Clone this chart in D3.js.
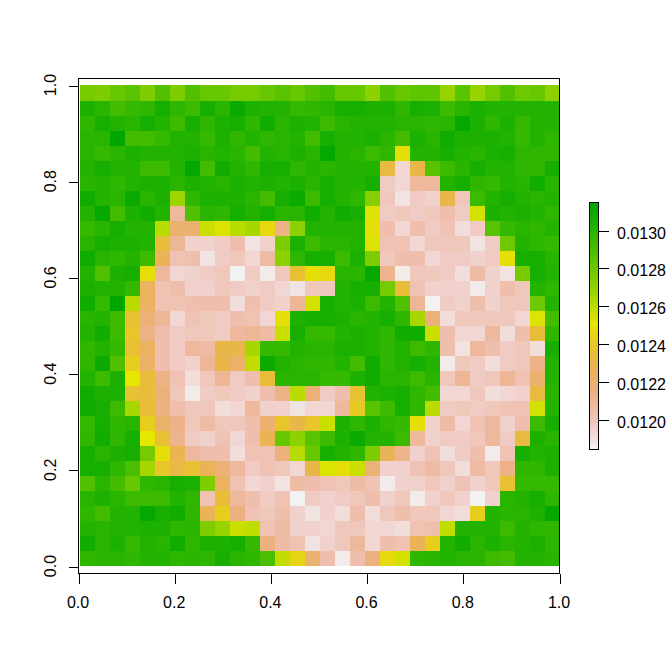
<!DOCTYPE html>
<html>
<head>
<meta charset="utf-8">
<script src="https://cdn.jsdelivr.net/npm/d3@7"></script>
<style>
html,body{margin:0;padding:0;background:#fff}
svg{display:block}
text{font-family:"Liberation Sans",Arial,sans-serif;font-size:16px;fill:#000}
</style>
</head>
<body>
<svg id="chart" width="672" height="671"></svg>
<script>
// cell values, in units of 1e-5, top row first
const row00=[1279,1276,1282,1286,1277,1289,1277,1288,1282,1283,1278,1278,1282,1286,1282,1288,1294,1282,1282,1273,1288,1283,1284,1284,1270,1287,1270,1278,1290,1281,1282,1272];
const row01=[1305,1302,1294,1298,1300,1308,1299,1296,1307,1302,1311,1305,1304,1304,1298,1300,1301,1307,1307,1306,1306,1300,1308,1306,1296,1301,1305,1304,1304,1304,1304,1304];
const row02=[1300,1307,1304,1302,1307,1304,1295,1307,1299,1305,1308,1300,1309,1302,1306,1304,1295,1302,1303,1304,1303,1302,1301,1300,1302,1313,1306,1300,1305,1298,1303,1303];
const row03=[1301,1301,1315,1294,1294,1298,1304,1303,1297,1305,1299,1304,1300,1302,1304,1293,1307,1304,1304,1306,1301,1294,1306,1301,1309,1305,1305,1306,1303,1297,1304,1299];
const row04=[1301,1298,1301,1305,1304,1304,1304,1305,1302,1304,1302,1293,1304,1302,1306,1302,1313,1303,1301,1296,1300,1250,1304,1304,1308,1303,1302,1305,1308,1300,1300,1299];
const row05=[1304,1308,1304,1304,1296,1296,1304,1314,1294,1310,1304,1299,1307,1308,1300,1304,1302,1304,1304,1304,1232,1194,1230,1286,1295,1302,1307,1303,1303,1300,1299,1308];
const row06=[1301,1304,1300,1304,1306,1306,1302,1305,1304,1302,1305,1304,1305,1303,1305,1302,1307,1304,1304,1307,1198,1194,1208,1208,1303,1308,1299,1297,1304,1302,1309,1301];
const row07=[1310,1304,1302,1312,1302,1305,1269,1299,1306,1306,1306,1302,1293,1308,1311,1295,1308,1304,1299,1275,1200,1190,1197,1196,1231,1200,1295,1304,1308,1304,1301,1304];
const row08=[1303,1313,1293,1305,1310,1304,1209,1288,1302,1300,1307,1304,1307,1302,1301,1310,1304,1310,1307,1254,1198,1200,1198,1200,1203,1197,1255,1306,1304,1306,1304,1299];
const row09=[1298,1301,1308,1304,1303,1263,1220,1220,1257,1253,1262,1267,1248,1215,1272,1304,1304,1304,1304,1250,1203,1194,1204,1198,1201,1192,1197,1286,1298,1302,1300,1304];
const row10=[1301,1307,1306,1306,1304,1236,1210,1196,1196,1198,1204,1189,1196,1276,1306,1295,1302,1301,1304,1254,1201,1202,1193,1199,1200,1199,1189,1198,1280,1304,1300,1298];
const row11=[1309,1302,1300,1304,1295,1226,1201,1204,1190,1197,1200,1193,1205,1273,1300,1307,1307,1295,1305,1276,1200,1204,1203,1193,1197,1198,1196,1198,1249,1307,1307,1301];
const row12=[1304,1290,1305,1307,1250,1207,1193,1195,1197,1200,1184,1198,1187,1199,1238,1249,1247,1302,1301,1314,1212,1187,1200,1199,1197,1192,1206,1195,1190,1279,1307,1304];
const row13=[1305,1304,1303,1298,1225,1201,1204,1196,1196,1199,1197,1195,1197,1193,1189,1200,1200,1304,1307,1307,1279,1234,1202,1195,1196,1195,1187,1195,1203,1199,1304,1299];
const row14=[1310,1298,1315,1263,1225,1202,1201,1204,1204,1203,1192,1204,1197,1195,1210,1256,1307,1304,1306,1295,1304,1290,1210,1186,1197,1195,1203,1196,1200,1199,1280,1304];
const row15=[1301,1304,1296,1237,1219,1210,1194,1201,1199,1197,1203,1201,1193,1249,1305,1307,1307,1305,1301,1304,1307,1300,1266,1218,1191,1199,1199,1200,1200,1193,1254,1294];
const row16=[1304,1309,1295,1240,1214,1204,1198,1200,1199,1197,1207,1210,1206,1257,1307,1298,1298,1304,1306,1304,1300,1310,1309,1257,1203,1193,1193,1207,1191,1203,1235,1299];
const row17=[1300,1304,1297,1238,1225,1203,1198,1207,1206,1231,1231,1266,1297,1297,1304,1302,1302,1305,1305,1303,1300,1304,1295,1300,1203,1190,1207,1203,1197,1199,1192,1307];
const row18=[1300,1312,1288,1243,1222,1204,1198,1195,1210,1231,1222,1260,1311,1304,1301,1299,1300,1304,1293,1310,1300,1304,1308,1304,1188,1200,1197,1191,1197,1200,1214,1304];
const row19=[1304,1296,1305,1252,1236,1214,1202,1191,1200,1210,1197,1203,1236,1302,1302,1302,1298,1298,1306,1309,1302,1302,1295,1301,1200,1210,1197,1199,1210,1202,1221,1304];
const row20=[1310,1306,1306,1238,1236,1218,1199,1187,1197,1200,1197,1195,1203,1214,1263,1219,1198,1204,1238,1304,1305,1307,1300,1294,1193,1193,1200,1191,1193,1195,1233,1302];
const row21=[1310,1308,1295,1266,1235,1217,1203,1199,1199,1192,1193,1207,1195,1196,1189,1193,1193,1209,1242,1286,1295,1308,1299,1262,1197,1200,1197,1200,1201,1201,1255,1304];
const row22=[1298,1308,1300,1302,1243,1222,1215,1199,1205,1200,1200,1203,1220,1240,1231,1240,1258,1306,1300,1305,1300,1298,1250,1196,1206,1193,1201,1209,1195,1203,1296,1308];
const row23=[1300,1309,1300,1308,1251,1238,1212,1197,1196,1201,1193,1203,1228,1282,1272,1286,1295,1305,1312,1304,1304,1295,1209,1195,1197,1198,1200,1209,1197,1232,1306,1301];
const row24=[1307,1302,1305,1307,1278,1250,1228,1209,1204,1203,1191,1201,1201,1217,1263,1283,1307,1304,1300,1276,1226,1212,1195,1201,1192,1198,1204,1188,1201,1307,1304,1305];
const row25=[1307,1307,1300,1292,1267,1240,1232,1238,1226,1218,1207,1197,1201,1200,1193,1230,1254,1249,1257,1219,1196,1196,1201,1205,1199,1192,1206,1199,1214,1300,1300,1306];
const row26=[1290,1302,1294,1282,1299,1301,1308,1305,1276,1225,1202,1193,1196,1190,1206,1204,1201,1200,1206,1202,1187,1195,1196,1199,1196,1202,1195,1200,1237,1298,1298,1298];
const row27=[1301,1305,1302,1295,1296,1296,1304,1300,1201,1236,1207,1204,1197,1201,1186,1197,1196,1198,1199,1203,1195,1199,1187,1196,1200,1195,1186,1195,1301,1304,1307,1300];
const row28=[1299,1294,1303,1304,1314,1308,1310,1300,1226,1243,1216,1201,1199,1203,1195,1190,1195,1192,1203,1192,1199,1203,1200,1200,1193,1192,1243,1304,1302,1301,1306,1313];
const row29=[1304,1302,1304,1304,1306,1306,1299,1302,1276,1270,1258,1259,1202,1205,1195,1196,1193,1199,1200,1193,1193,1191,1202,1203,1260,1304,1304,1304,1296,1303,1299,1300];
const row30=[1310,1301,1306,1298,1304,1301,1310,1300,1306,1305,1307,1298,1216,1205,1202,1190,1195,1199,1209,1193,1203,1201,1226,1243,1304,1309,1302,1306,1302,1304,1305,1300];
const row31=[1299,1302,1301,1300,1304,1304,1300,1301,1300,1308,1301,1300,1292,1259,1246,1221,1204,1188,1204,1216,1248,1255,1299,1302,1304,1302,1302,1295,1294,1304,1304,1302];
const rows=[row00,row01,row02,row03,row04,row05,row06,row07,row08,row09,row10,row11,row12,row13,row14,row15,row16,row17,row18,row19,row20,row21,row22,row23,row24,row25,row26,row27,row28,row29,row30,row31];

const axisTicks=[0,0.2,0.4,0.6,0.8,1];
const legendTicks=[0.0120,0.0122,0.0124,0.0126,0.0128,0.0130];
const zRange=[0.011841,0.013148];
const cellColorRange=[0.011841,0.01317];

// R's terrain.colors(64), reversed
function hsv(h,s,v){
  const f=(n)=>{const k=(n+h/60)%6;return Math.round(255*(v-v*s*Math.max(0,Math.min(k,4-k,1))));};
  return d3.rgb(f(5),f(3),f(1)).formatHex();
}
function terrain(n){
  const k=Math.floor(n/2),out=[];
  for(let i=0;i<k;i++){const t=i/(k-1);out.push(hsv(120-60*t,1,0.65+0.25*t));}
  const m=n-k+1;
  for(let i=1;i<m;i++){const t=i/(m-1);out.push(hsv(60-60*t,1-t,0.9+0.05*t));}
  return out;
}
const palette=terrain(64).reverse();
const color=d3.scaleQuantize().domain(cellColorRange).range(palette);

const svg=d3.select("#chart");
svg.append("rect").attr("width",672).attr("height",671).attr("fill","#fff");

const n=rows.length;
const xEdge=d3.scaleLinear().domain([0,n]).range([80,560]);
const yEdge=d3.scaleLinear().domain([0,n]).range([86,566]);
const xL=i=>Math.max(79,xEdge(i)), xR=i=>Math.min(559,xEdge(i+1));
const yT=j=>j===0?85:yEdge(j), yB=j=>Math.min(566,yEdge(j+1));

svg.append("g").attr("shape-rendering","crispEdges")
  .selectAll("g").data(rows).join("g")
  .each(function(row,j){
    d3.select(this).selectAll("rect").data(row).join("rect")
      .attr("x",(d,i)=>xL(i))
      .attr("y",yT(j))
      .attr("width",(d,i)=>xR(i)-xL(i))
      .attr("height",yB(j)-yT(j))
      .attr("fill",d=>color(d*1e-5));
  });

// box
svg.append("rect").attr("x",78.5).attr("y",78.5).attr("width",481).attr("height",495)
  .attr("fill","none").attr("stroke","#000").attr("shape-rendering","crispEdges");

const xAxisScale=d3.scaleLinear().domain([0,1]).range([78.5,559.5]);
const yAxisScale=d3.scaleLinear().domain([0,1]).range([566.5,85.5]);

const gx=svg.append("g").attr("transform","translate(0,573.5)")
  .call(d3.axisBottom(xAxisScale).tickValues(axisTicks).tickSize(10).tickSizeOuter(0).tickFormat(d3.format(".1f")));
const gy=svg.append("g").attr("transform","translate(78.5,0)")
  .call(d3.axisLeft(yAxisScale).tickValues(axisTicks).tickSize(10).tickSizeOuter(0).tickFormat(d3.format(".1f")));
gx.selectAll("text").attr("x",-1).attr("y",34.5).attr("dy",0).attr("text-anchor","middle");
gy.selectAll("text").attr("x",0).attr("y",0).attr("dy",0).attr("text-anchor","middle")
  .attr("transform","translate(-22.5,-1) rotate(-90)");

// colour bar
const barY=d3.scaleLinear().domain([0.0120,0.0130]).range([419.5,230.5]);
const step=(zRange[1]-zRange[0])/palette.length;
svg.append("g").attr("shape-rendering","crispEdges").selectAll("rect").data(palette).join("rect")
  .attr("x",590).attr("width",9)
  .attr("y",(d,i)=>Math.round(barY(zRange[0]+(i+1)*step)))
  .attr("height",(d,i)=>Math.round(barY(zRange[0]+i*step))-Math.round(barY(zRange[0]+(i+1)*step)))
  .attr("fill",d=>d);
svg.append("rect").attr("x",589.5).attr("y",202.5).attr("width",9).attr("height",247)
  .attr("fill","none").attr("stroke","#000").attr("shape-rendering","crispEdges");
const gl=svg.append("g").attr("transform","translate(598.5,0)")
  .call(d3.axisRight(barY).tickValues(legendTicks).tickSize(10.5).tickSizeOuter(0).tickFormat(d3.format(".4f")));
gl.selectAll("text").attr("x",18.5).attr("y",7.5).attr("dy",0).attr("text-anchor","start");

[gx,gy,gl].forEach(g=>{
  g.attr("font-family",null).attr("font-size",null);
  g.select(".domain").remove();
  g.selectAll("line").attr("stroke","#000").attr("shape-rendering","crispEdges");
});
</script>
</body>
</html>
